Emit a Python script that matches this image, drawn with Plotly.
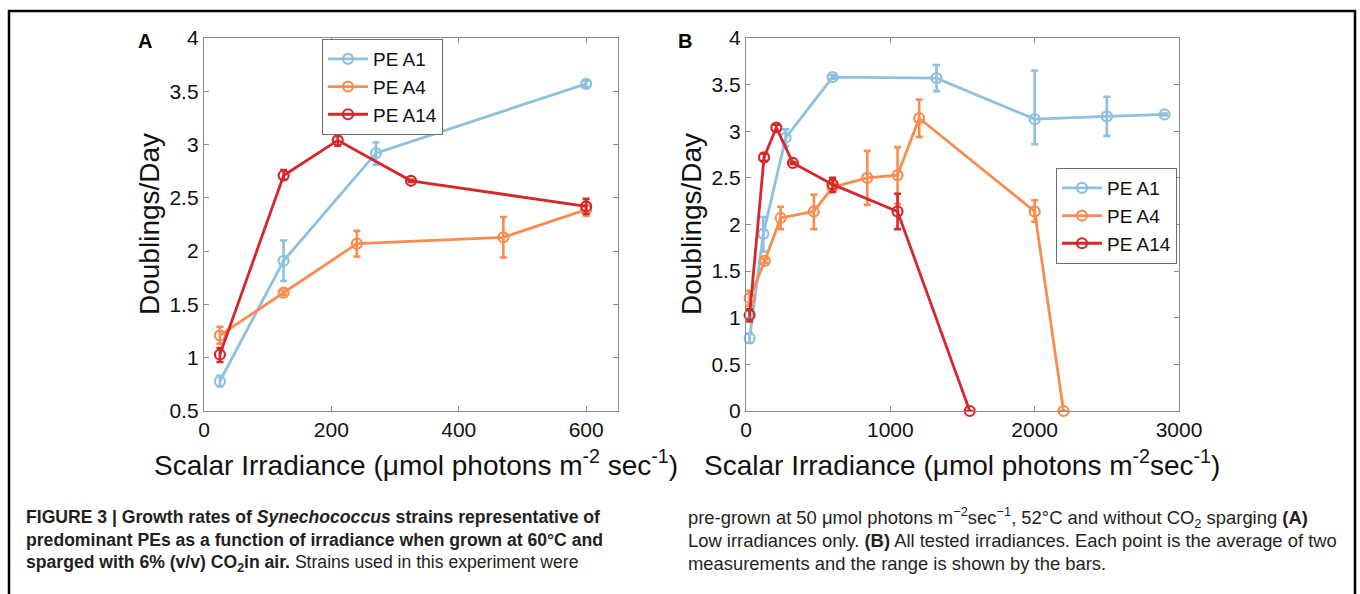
import plotly.graph_objects as go

# ---------------- data ----------------
series_names = ["PE A1", "PE A4", "PE A14"]

# Panel A (low irradiances)
a_x_A1 = [25, 125, 270, 600]
a_y_A1 = [0.78, 1.91, 2.92, 3.57]
a_ep_A1 = [0.05, 0.19, 0.10, 0.03]
a_em_A1 = [0.05, 0.19, 0.11, 0.03]

a_x_A4 = [25, 125, 240, 470, 600]
a_y_A4 = [1.21, 1.61, 2.07, 2.13, 2.39]
a_ep_A4 = [0.08, 0.02, 0.12, 0.19, 0.04]
a_em_A4 = [0.08, 0.02, 0.12, 0.19, 0.06]

a_x_A14 = [25, 125, 210, 325, 600]
a_y_A14 = [1.03, 2.71, 3.04, 2.66, 2.42]
a_ep_A14 = [0.06, 0.05, 0.04, 0.01, 0.07]
a_em_A14 = [0.07, 0.04, 0.05, 0.01, 0.07]

# Panel B (all irradiances)
b_x_A1 = [25, 120, 275, 600, 1320, 2000, 2500, 2900]
b_y_A1 = [0.78, 1.90, 2.93, 3.58, 3.57, 3.13, 3.16, 3.18]
b_ep_A1 = [0.05, 0.18, 0.09, 0.02, 0.14, 0.52, 0.21, 0.01]
b_em_A1 = [0.05, 0.19, 0.09, 0.02, 0.14, 0.27, 0.21, 0.01]

b_x_A4 = [25, 130, 240, 470, 600, 840, 1050, 1200, 2000, 2200]
b_y_A4 = [1.21, 1.61, 2.07, 2.14, 2.40, 2.50, 2.53, 3.14, 2.14, 0.0]
b_ep_A4 = [0.08, 0.02, 0.12, 0.18, 0.03, 0.29, 0.30, 0.20, 0.12, 0.0]
b_em_A4 = [0.08, 0.02, 0.12, 0.19, 0.05, 0.29, 0.31, 0.20, 0.11, 0.0]

b_x_A14 = [25, 125, 210, 325, 600, 1050, 1550]
b_y_A14 = [1.03, 2.72, 3.04, 2.66, 2.43, 2.14, 0.0]
b_ep_A14 = [0.06, 0.04, 0.03, 0.01, 0.07, 0.19, 0.0]
b_em_A14 = [0.07, 0.04, 0.04, 0.01, 0.08, 0.19, 0.0]

a_xticks = [0, 200, 400, 600]
a_yticks = [0.5, 1, 1.5, 2, 2.5, 3, 3.5, 4]
b_xticks = [0, 1000, 2000, 3000]
b_yticks = [0, 0.5, 1, 1.5, 2, 2.5, 3, 3.5, 4]

colors = {"PE A1": "#8ec0e0", "PE A4": "#fa8c50", "PE A14": "#d5282b"}

# ---------------- figure ----------------
fig = go.Figure()

def add(x, y, ep, em, name, xa, ya, legend, show):
    c = colors[name]
    fig.add_trace(go.Scatter(
        x=x, y=y, name=name, mode="lines+markers",
        xaxis=xa, yaxis=ya, legend=legend, showlegend=show,
        line=dict(color=c, width=2.8),
        marker=dict(symbol="circle-open", size=10, color=c, line=dict(width=2.2, color=c)),
        error_y=dict(type="data", symmetric=False, array=ep, arrayminus=em,
                     color=c, thickness=2.6, width=3.5),
        cliponaxis=False,
    ))

add(a_x_A1, a_y_A1, a_ep_A1, a_em_A1, "PE A1", "x", "y", "legend", True)
add(a_x_A4, a_y_A4, a_ep_A4, a_em_A4, "PE A4", "x", "y", "legend", True)
add(a_x_A14, a_y_A14, a_ep_A14, a_em_A14, "PE A14", "x", "y", "legend", True)
add(b_x_A1, b_y_A1, b_ep_A1, b_em_A1, "PE A1", "x2", "y2", "legend2", True)
add(b_x_A4, b_y_A4, b_ep_A4, b_em_A4, "PE A4", "x2", "y2", "legend2", True)
add(b_x_A14, b_y_A14, b_ep_A14, b_em_A14, "PE A14", "x2", "y2", "legend2", True)

W, H = 1360, 594
def px(v): return v / W
def py(v): return 1 - v / H

tick_font = dict(family="Liberation Sans, Arial, sans-serif", size=21, color="#111")
axis_common = dict(showgrid=False, zeroline=False, showline=True, linecolor="#8a8a8a",
                   linewidth=1.3, mirror="ticks", ticks="inside", ticklen=5,
                   tickcolor="#8a8a8a", tickfont=tick_font, automargin=False)

leg_font = dict(family="Liberation Sans, Arial, sans-serif", size=19, color="#111")
fig.update_layout(
    template="none",
    width=W, height=H, paper_bgcolor="white", plot_bgcolor="white",
    margin=dict(l=0, r=0, t=0, b=0, pad=0, autoexpand=False),
    xaxis=dict(domain=[px(204), px(618)], range=[0, 650], tickvals=a_xticks, anchor="y", **axis_common),
    yaxis=dict(domain=[py(411), py(38)], range=[0.5, 4], tickvals=a_yticks, anchor="x", **axis_common),
    xaxis2=dict(domain=[px(746), px(1179)], range=[0, 3000], tickvals=b_xticks, anchor="y2", **axis_common),
    yaxis2=dict(domain=[py(411), py(38)], range=[0, 4], tickvals=b_yticks, anchor="x2", **axis_common),
    legend=dict(x=px(322), y=py(39), xanchor="left", yanchor="top",
                bgcolor="white", bordercolor="#6e6e6e", borderwidth=1,
                font=leg_font, tracegroupgap=0, itemwidth=40),
    legend2=dict(x=px(1177), y=py(168), xanchor="right", yanchor="top",
                 bgcolor="white", bordercolor="#6e6e6e", borderwidth=1,
                 font=leg_font, tracegroupgap=0, itemwidth=40),
)

ann_font = dict(family="Liberation Sans, Arial, sans-serif", size=28, color="#111")
xtitle = "Scalar Irradiance (\u03bcmol photons m<sup>-2</sup> sec<sup>-1</sup>)"
xtitle_b = "Scalar Irradiance (\u03bcmol photons m<sup>-2</sup>sec<sup>-1</sup>)"
annotations = [
    dict(text="<b>A</b>", x=px(145), y=py(41), font=dict(family="Liberation Sans, Arial", size=20, color="#000")),
    dict(text="<b>B</b>", x=px(685), y=py(41), font=dict(family="Liberation Sans, Arial", size=20, color="#000")),
    dict(text="Doublings/Day", x=px(149), y=py(224), textangle=-90, font=ann_font),
    dict(text="Doublings/Day", x=px(691), y=py(224), textangle=-90, font=ann_font),
    dict(text=xtitle, x=px(416), y=py(463), font=ann_font),
    dict(text=xtitle_b, x=px(962), y=py(463), font=ann_font),
]
cap_font_l = dict(family="Liberation Sans Narrow, Liberation Sans, Arial", size=17.6, color="#231f20")
cap_font_r = dict(family="Liberation Sans Narrow, Liberation Sans, Arial", size=18.4, color="#231f20")
left_lines = [
    "<b>FIGURE 3 | Growth rates of <i>Synechococcus</i> strains representative of</b>",
    "<b>predominant PEs as a function of irradiance when grown at 60\u00b0C and</b>",
    "<b>sparged with 6% (v/v) CO<sub>2</sub>in air.</b> Strains used in this experiment were",
]
right_lines = [
    "pre-grown at 50 \u03bcmol photons m<sup>\u22122</sup>sec<sup>\u22121</sup>, 52\u00b0C and without CO<sub>2</sub> sparging <b>(A)</b>",
    "Low irradiances only. <b>(B)</b> All tested irradiances. Each point is the average of two",
    "measurements and the range is shown by the bars.",
]
for i, t in enumerate(left_lines):
    annotations.append(dict(text=t, x=px(24), y=py(517 + 23 * i), xanchor="left", font=cap_font_l))
for i, t in enumerate(right_lines):
    annotations.append(dict(text=t, x=px(686), y=py(517 + 23 * i), xanchor="left", font=cap_font_r))
for a in annotations:
    a.setdefault("xanchor", "center")
    a.update(xref="paper", yref="paper", yanchor="middle", showarrow=False)
fig.update_layout(annotations=annotations)

fig.add_shape(type="rect", xref="paper", yref="paper",
              x0=px(9), x1=px(1355), y0=-0.05, y1=py(11),
              line=dict(color="black", width=2.5), fillcolor="rgba(0,0,0,0)")

fig.write_html(
    "out.html",
    config={"displayModeBar": False},
    post_script="document.body.style.margin='0';document.body.style.padding='0';document.body.style.overflow='hidden';",
)
